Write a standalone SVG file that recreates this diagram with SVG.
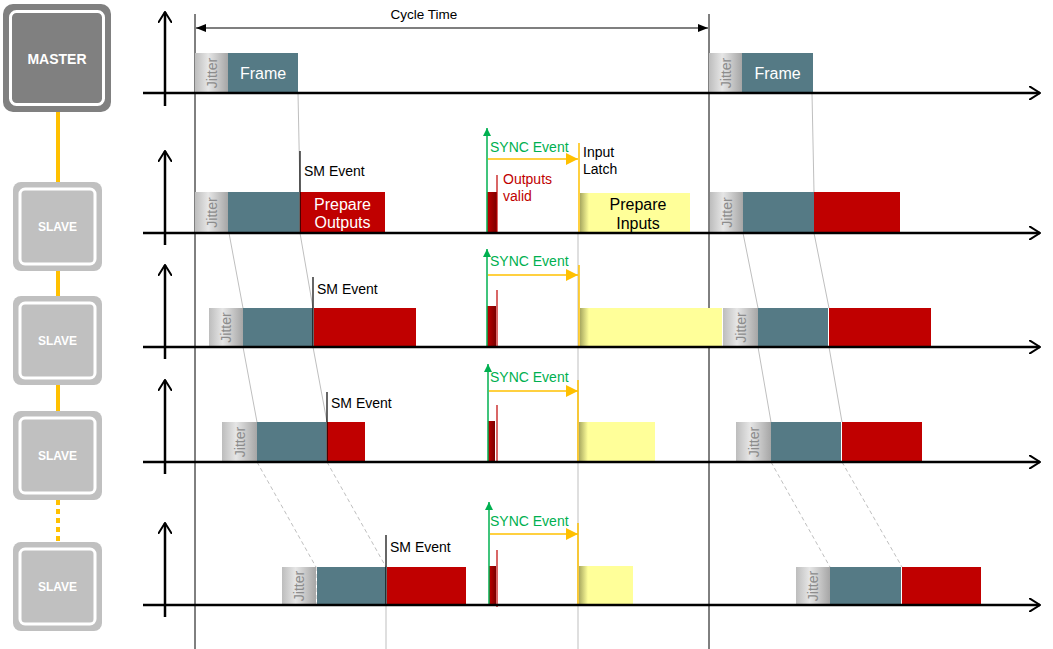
<svg xmlns="http://www.w3.org/2000/svg" width="1053" height="649" viewBox="0 0 1053 649">
<style>
text{font-family:"Liberation Sans",Arial,sans-serif}
.ax{stroke:#000;stroke-width:2.5;fill:none}
.vl{stroke:#000;stroke-width:1;fill:none}
.gl{stroke:#bfbfbf;stroke-width:1;fill:none}
.gd{stroke:#bfbfbf;stroke-width:1;fill:none;stroke-dasharray:4,3}
.teal{fill:#557a85}
.red{fill:#c00000}
.yel{fill:#ffff99}
.jit{fill:url(#jg)}
.jt{font-size:14px;fill:#8c8c8c;text-anchor:middle;dominant-baseline:central}
.wt{fill:#fff;font-size:16px;text-anchor:middle}
.bk{fill:#000;font-size:14px}
.gt{fill:#00b050;font-size:14px}
.rt{fill:#c00000;font-size:14px}
.sm{stroke:#000;stroke-width:1.2}
.sync{stroke:#00b050;stroke-width:1.5}
.org{stroke:#ffc000;stroke-width:1.5}
.ov{stroke:#c00000;stroke-width:1.2}
.nm{fill:#fff;font-weight:bold;text-anchor:middle}
</style>
<defs>
<linearGradient id="jg" x1="0" y1="0" x2="1" y2="0">
<stop offset="0" stop-color="#bdbdbd"/><stop offset="0.4" stop-color="#e6e6e6"/><stop offset="1" stop-color="#a6a6a6"/>
</linearGradient>
<linearGradient id="rg" x1="0" y1="0" x2="1" y2="0">
<stop offset="0" stop-color="#c00000"/><stop offset="1" stop-color="#7a0000"/>
</linearGradient>
<linearGradient id="yg" x1="0" y1="0" x2="1" y2="0">
<stop offset="0" stop-color="#a8a860"/><stop offset="1" stop-color="#ffff99"/>
</linearGradient>
<marker id="chev" viewBox="0 0 12 14" refX="11" refY="7" markerWidth="12" markerHeight="14" markerUnits="userSpaceOnUse" orient="auto">
<path d="M0,0 L11,7 L0,14" fill="none" stroke="#000" stroke-width="2"/>
</marker>
<marker id="tri" viewBox="0 0 10 8" refX="10" refY="4" markerWidth="10" markerHeight="8" markerUnits="userSpaceOnUse" orient="auto-start-reverse">
<path d="M0,0 L10,4 L0,8 Z" fill="#000"/>
</marker>
<marker id="gtri" viewBox="0 0 8 8" refX="8" refY="4" markerWidth="8" markerHeight="8" markerUnits="userSpaceOnUse" orient="auto">
<path d="M0,0 L8,4 L0,8 Z" fill="#00b050"/>
</marker>
<marker id="otri" viewBox="0 0 12 12" refX="12" refY="6" markerWidth="12" markerHeight="12" markerUnits="userSpaceOnUse" orient="auto">
<path d="M0,0 L12,6 L0,12 Z" fill="#ffc000"/>
</marker>
</defs>
<rect width="1053" height="649" fill="#fff"/>

<g id="connectors">
<line x1="58" y1="112" x2="58" y2="183" stroke="#ffc000" stroke-width="4"/>
<line x1="58" y1="271" x2="58" y2="297" stroke="#ffc000" stroke-width="4"/>
<line x1="58" y1="385" x2="58" y2="411" stroke="#ffc000" stroke-width="4"/>
<line x1="58" y1="500" x2="58" y2="542" stroke="#ffc000" stroke-width="4" stroke-dasharray="5,4"/>
</g>

<g id="master">
<rect x="3" y="4" width="108" height="108" rx="10" fill="#808080"/>
<rect x="10.5" y="11.5" width="93" height="93" rx="6" fill="#808080" stroke="#fff" stroke-width="3"/>
<text x="57" y="64" class="nm" font-size="14">MASTER</text>
</g>
<g id="slave1">
<rect x="13" y="182" width="89" height="89" rx="8" fill="#c0c0c0"/>
<rect x="20" y="189" width="75" height="75" rx="5" fill="#c0c0c0" stroke="#fff" stroke-width="3"/>
<text x="57.5" y="231" class="nm" font-size="12">SLAVE</text>
</g>
<g id="slave2">
<rect x="13" y="296" width="89" height="89" rx="8" fill="#c0c0c0"/>
<rect x="20" y="303" width="75" height="75" rx="5" fill="#c0c0c0" stroke="#fff" stroke-width="3"/>
<text x="57.5" y="345" class="nm" font-size="12">SLAVE</text>
</g>
<g id="slave3">
<rect x="13" y="411" width="89" height="89" rx="8" fill="#c0c0c0"/>
<rect x="20" y="418" width="75" height="75" rx="5" fill="#c0c0c0" stroke="#fff" stroke-width="3"/>
<text x="57.5" y="460" class="nm" font-size="12">SLAVE</text>
</g>
<g id="slave4">
<rect x="13" y="542" width="89" height="89" rx="8" fill="#c0c0c0"/>
<rect x="20" y="549" width="75" height="75" rx="5" fill="#c0c0c0" stroke="#fff" stroke-width="3"/>
<text x="57.5" y="591" class="nm" font-size="12">SLAVE</text>
</g>

<g id="guides">
<line x1="298" y1="93" x2="300" y2="192" class="gl"/>
<line x1="812" y1="93" x2="814" y2="192" class="gl"/>
<line x1="229" y1="233" x2="243" y2="308" class="gl"/>
<line x1="300" y1="233" x2="313" y2="308" class="gl"/>
<line x1="743" y1="233" x2="758" y2="308" class="gl"/>
<line x1="814" y1="233" x2="829" y2="308" class="gl"/>
<line x1="243" y1="347" x2="257" y2="422" class="gl"/>
<line x1="313" y1="347" x2="327" y2="422" class="gl"/>
<line x1="758" y1="347" x2="771" y2="422" class="gl"/>
<line x1="829" y1="347" x2="842" y2="422" class="gl"/>
<line x1="257" y1="462" x2="316" y2="567" class="gd"/>
<line x1="327" y1="462" x2="386" y2="567" class="gd"/>
<line x1="771" y1="462" x2="830" y2="567" class="gd"/>
<line x1="842" y1="462" x2="902" y2="567" class="gd"/>
<line x1="578" y1="233" x2="578" y2="649" class="gl"/>
<line x1="386" y1="605" x2="386" y2="649" class="gl"/>
<line x1="316" y1="567" x2="316" y2="605" class="gd"/>
</g>

<g id="cycle">
<line x1="195" y1="14" x2="195" y2="649" class="vl"/>
<line x1="709" y1="14" x2="709" y2="649" class="vl"/>
<line x1="196" y1="28" x2="708" y2="28" stroke="#000" stroke-width="1.2" marker-start="url(#tri)" marker-end="url(#tri)"/>
<text x="424" y="19" font-size="13.5" text-anchor="middle">Cycle Time</text>
</g>

<g id="row0">
<rect x="195" y="53" width="33" height="40" class="jit"/>
<text transform="translate(211.5,73) rotate(-90)" class="jt">Jitter</text>
<rect x="228" y="53" width="70" height="40" class="teal"/>
<text x="263" y="79" class="wt">Frame</text>
<rect x="709" y="53" width="33" height="40" class="jit"/>
<text transform="translate(725.5,73) rotate(-90)" class="jt">Jitter</text>
<rect x="742" y="53" width="71" height="40" class="teal"/>
<text x="777.5" y="79" class="wt">Frame</text>
<line x1="165" y1="106" x2="165" y2="12" class="ax" marker-end="url(#chev)"/>
<line x1="143" y1="93" x2="1040" y2="93" class="ax" marker-end="url(#chev)"/>
</g>

<g id="row1">
<rect x="195" y="192" width="33" height="41" class="jit"/>
<text transform="translate(211.5,212.5) rotate(-90)" class="jt">Jitter</text>
<rect x="228" y="192" width="71" height="41" class="teal"/>
<rect x="300" y="192" width="85" height="41" class="red"/>
<text x="342.5" y="210" class="wt">Prepare</text>
<text x="342.5" y="228" class="wt">Outputs</text>
<line x1="300" y1="151" x2="300" y2="233" class="sm"/>
<text x="304" y="176" class="bk">SM Event</text>
<rect x="487" y="192" width="10" height="41" fill="url(#rg)"/>
<line x1="497" y1="175" x2="497" y2="233" class="ov"/>
<text x="503" y="184" class="rt">Outputs</text>
<text x="503" y="201" class="rt">valid</text>
<line x1="487" y1="233" x2="487" y2="128" class="sync" marker-end="url(#gtri)"/>
<text x="490" y="152" class="gt">SYNC Event</text>
<line x1="488" y1="159" x2="578" y2="159" class="org" marker-end="url(#otri)"/>
<line x1="579" y1="143" x2="579" y2="233" class="org"/>
<text x="583" y="157" class="bk">Input</text>
<text x="583" y="174" class="bk">Latch</text>
<rect x="580" y="193" width="110" height="40" class="yel"/>
<rect x="580" y="193" width="9" height="40" fill="url(#yg)"/>
<text x="638" y="210" font-size="16" text-anchor="middle">Prepare</text>
<text x="638" y="229" font-size="16" text-anchor="middle">Inputs</text>
<rect x="710" y="192" width="33" height="41" class="jit"/>
<text transform="translate(726.5,212.5) rotate(-90)" class="jt">Jitter</text>
<rect x="743" y="192" width="71" height="41" class="teal"/>
<rect x="814" y="192" width="86" height="41" class="red"/>
<line x1="165" y1="245" x2="165" y2="151" class="ax" marker-end="url(#chev)"/>
<line x1="143" y1="233" x2="1040" y2="233" class="ax" marker-end="url(#chev)"/>
</g>

<g id="row2">
<rect x="209" y="308" width="34" height="39" class="jit"/>
<text transform="translate(226,327.5) rotate(-90)" class="jt">Jitter</text>
<rect x="243" y="308" width="70" height="39" class="teal"/>
<rect x="314" y="308" width="102" height="39" class="red"/>
<line x1="313" y1="277" x2="313" y2="347" class="sm"/>
<text x="317" y="294" class="bk">SM Event</text>
<rect x="487" y="306" width="9" height="41" fill="url(#rg)"/>
<line x1="497" y1="290" x2="497" y2="347" class="ov"/>
<line x1="487" y1="347" x2="487" y2="249" class="sync" marker-end="url(#gtri)"/>
<text x="490" y="266" class="gt">SYNC Event</text>
<line x1="488" y1="275" x2="578" y2="275" class="org" marker-end="url(#otri)"/>
<line x1="579" y1="265" x2="579" y2="347" class="org"/>
<rect x="580" y="308" width="142" height="39" class="yel"/>
<rect x="580" y="308" width="9" height="39" fill="url(#yg)"/>
<rect x="723" y="308" width="35" height="39" class="jit"/>
<text transform="translate(740.5,327.5) rotate(-90)" class="jt">Jitter</text>
<rect x="758" y="308" width="70" height="39" class="teal"/>
<rect x="829" y="308" width="102" height="39" class="red"/>
<line x1="165" y1="359" x2="165" y2="265" class="ax" marker-end="url(#chev)"/>
<line x1="143" y1="347" x2="1040" y2="347" class="ax" marker-end="url(#chev)"/>
</g>

<g id="row3">
<rect x="222" y="422" width="35" height="40" class="jit"/>
<text transform="translate(239.5,442) rotate(-90)" class="jt">Jitter</text>
<rect x="257" y="422" width="69" height="40" class="teal"/>
<rect x="327" y="422" width="38" height="40" class="red"/>
<line x1="327" y1="392" x2="327" y2="462" class="sm"/>
<text x="331" y="408" class="bk">SM Event</text>
<rect x="488" y="421" width="7" height="41" fill="url(#rg)"/>
<line x1="497" y1="405" x2="497" y2="462" class="ov"/>
<line x1="488" y1="462" x2="488" y2="364" class="sync" marker-end="url(#gtri)"/>
<text x="490" y="382" class="gt">SYNC Event</text>
<line x1="489" y1="391" x2="578" y2="391" class="org" marker-end="url(#otri)"/>
<line x1="578" y1="380" x2="578" y2="462" class="org"/>
<rect x="579" y="422" width="76" height="40" class="yel"/>
<rect x="579" y="422" width="9" height="40" fill="url(#yg)"/>
<rect x="736" y="422" width="35" height="40" class="jit"/>
<text transform="translate(753.5,442) rotate(-90)" class="jt">Jitter</text>
<rect x="771" y="422" width="70" height="40" class="teal"/>
<rect x="842" y="422" width="80" height="40" class="red"/>
<line x1="165" y1="474" x2="165" y2="380" class="ax" marker-end="url(#chev)"/>
<line x1="143" y1="462" x2="1040" y2="462" class="ax" marker-end="url(#chev)"/>
</g>

<g id="row4">
<rect x="282" y="567" width="34" height="38" class="jit"/>
<text transform="translate(299,586) rotate(-90)" class="jt">Jitter</text>
<rect x="317" y="567" width="69" height="38" class="teal"/>
<rect x="387" y="567" width="79" height="38" class="red"/>
<line x1="386" y1="535" x2="386" y2="605" class="sm"/>
<text x="390" y="552" class="bk">SM Event</text>
<rect x="489" y="566" width="7" height="39" fill="url(#rg)"/>
<line x1="497" y1="550" x2="497" y2="607" class="ov"/>
<line x1="489" y1="606" x2="489" y2="502" class="sync" marker-end="url(#gtri)"/>
<text x="490" y="526" class="gt">SYNC Event</text>
<line x1="490" y1="534" x2="578" y2="534" class="org" marker-end="url(#otri)"/>
<line x1="578" y1="523" x2="578" y2="605" class="org"/>
<rect x="579" y="566" width="54" height="39" class="yel"/>
<rect x="579" y="566" width="9" height="39" fill="url(#yg)"/>
<rect x="796" y="567" width="34" height="38" class="jit"/>
<text transform="translate(813,586) rotate(-90)" class="jt">Jitter</text>
<rect x="830" y="567" width="71" height="38" class="teal"/>
<rect x="902" y="567" width="79" height="38" class="red"/>
<line x1="165" y1="617" x2="165" y2="523" class="ax" marker-end="url(#chev)"/>
<line x1="143" y1="605" x2="1040" y2="605" class="ax" marker-end="url(#chev)"/>
</g>
</svg>
